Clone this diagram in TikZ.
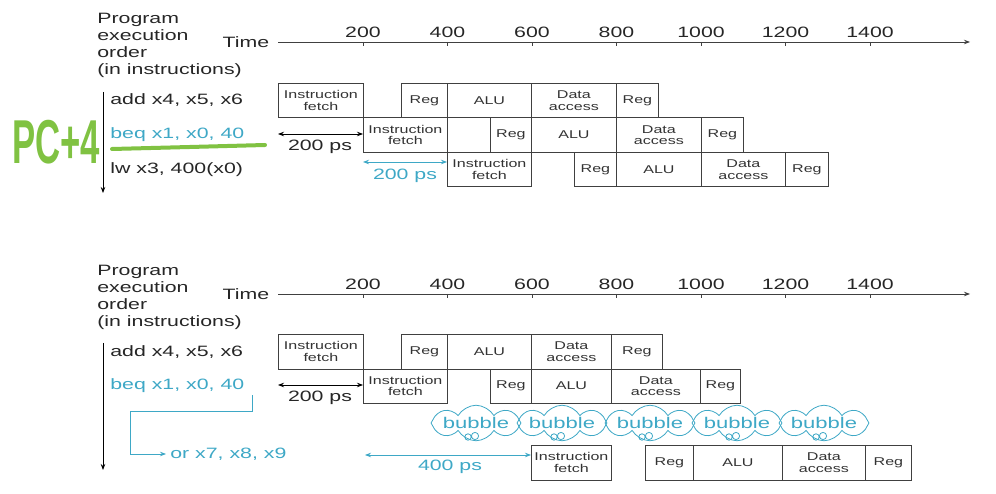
\documentclass[tikz,border=0pt]{standalone}
\usepackage{fontspec}
\setmainfont[FakeStretch=1.42]{Liberation Sans}
\newfontfamily\penfont[FakeStretch=0.56]{Liberation Sans}
\usetikzlibrary{shapes.symbols,arrows.meta,positioning}
\definecolor{branchblue}{RGB}{62,168,198}
\definecolor{pengreen}{RGB}{128,194,66}

\begin{document}
\begin{tikzpicture}[x=1bp,y=-1bp,>={Stealth[length=6bp,width=4.5bp]},line width=0.8bp,
  stage box/.style={draw=black!75,anchor=north west,minimum height=34.5bp,inner sep=0pt,align=center,text=black!80,font=\fontsize{11.3bp}{11.5bp}\selectfont},
  txt/.style={inner sep=0pt,text=black!85,font=\fontsize{15bp}{17bp}\selectfont},
  instr/.style={txt,anchor=west},
  branch/.style={txt,anchor=west,text=branchblue},
  bubble cloud/.style={cloud,cloud puffs=8,cloud puff arc=120,cloud ignores aspect,draw=branchblue,text=branchblue,minimum width=76bp,minimum height=32bp,inner sep=0pt,font=\fontsize{15.5bp}{17bp}\selectfont}]
  \useasboundingbox (0,0) rectangle (996,494);

  % ---------- top: pipelined, no stall ----------
  \node[txt,anchor=north west,align=left] (order top) at (97,12.5) {Program\\execution\\order\\(in instructions)};
  \node[txt] (time top) at (246,42) {Time};
  \coordinate (axis top start) at (278,42);
  \coordinate (axis top end) at (970,42);
  \draw[->,black!75] (axis top start) -- (axis top end);
  \foreach \i in {1,...,7}{
    \pgfmathtruncatemacro\ps{200*\i}
    \draw[black!75] (278.5+84.5*\i,42) -- ++(0,4);
    \node[txt] (tick top \i) at (278.5+84.5*\i,32) {\ps};
  }
  \coordinate (order top a) at (103,92);
  \coordinate (order top b) at (103,193);
  \draw[->] (order top a) -- (order top b);

  \node[instr] (add top) at (110,100) {add x4, x5, x6};
  \node[branch] (beq top) at (110,135) {beq x1, x0, 40};
  \node[instr] (lw top) at (110,170) {lw x3, 400(x0)};

  \node[stage box,minimum width=85bp] (add if) at (278,83) {Instruction\\fetch};
  \node[stage box,minimum width=46bp] (add rr) at (401,83) {Reg};
  \node[stage box,minimum width=84bp] (add alu) at (447,83) {ALU};
  \node[stage box,minimum width=85bp] (add mem) at (531,83) {Data\\access};
  \node[stage box,minimum width=42bp] (add rw) at (616,83) {Reg};

  \node[stage box,minimum width=84bp] (beq if) at (363,117.5) {Instruction\\fetch};
  \node[stage box,minimum width=41bp] (beq rr) at (490,117.5) {Reg};
  \node[stage box,minimum width=85bp] (beq alu) at (531,117.5) {ALU};
  \node[stage box,minimum width=85bp] (beq mem) at (616,117.5) {Data\\access};
  \node[stage box,minimum width=42bp] (beq rw) at (701,117.5) {Reg};

  \node[stage box,minimum width=84bp] (lw if) at (447,152) {Instruction\\fetch};
  \node[stage box,minimum width=42bp] (lw rr) at (574,152) {Reg};
  \node[stage box,minimum width=85bp] (lw alu) at (616,152) {ALU};
  \node[stage box,minimum width=84bp] (lw mem) at (701,152) {Data\\access};
  \node[stage box,minimum width=43bp] (lw rw) at (785,152) {Reg};

  \coordinate (gap top a) at (278,134);
  \coordinate (gap top b) at (363,134);
  \draw[<->] (gap top a) -- (gap top b);
  \node[txt] (ps top) at (320,147) {200 ps};
  \coordinate (br top a) at (363,162);
  \coordinate (br top b) at (447,162);
  \draw[<->,branchblue] (br top a) -- (br top b);
  \node[txt,text=branchblue] (ps top br) at (405,176) {200 ps};

  % handwritten note
  \node[inner sep=0pt,text=pengreen,font=\penfont\bfseries\fontsize{62bp}{62bp}\selectfont] (pc note) at (56,142) {PC+4};
  \draw[pengreen,line width=4bp,line cap=round] (112,149) .. controls (190,147) .. (265,145);

  % ---------- bottom: branch with stall ----------
  \node[txt,anchor=north west,align=left] (order bot) at (97,264.5) {Program\\execution\\order\\(in instructions)};
  \node[txt] (time bot) at (246,294) {Time};
  \coordinate (axis bot start) at (278,294);
  \coordinate (axis bot end) at (970,294);
  \draw[->,black!75] (axis bot start) -- (axis bot end);
  \foreach \i in {1,...,7}{
    \pgfmathtruncatemacro\ps{200*\i}
    \draw[black!75] (278.5+84.5*\i,294) -- ++(0,4);
    \node[txt] (tick bot \i) at (278.5+84.5*\i,284) {\ps};
  }
  \coordinate (order bot a) at (103,343);
  \coordinate (order bot b) at (103,470);
  \draw[->] (order bot a) -- (order bot b);

  \node[instr] (add bot) at (110,352) {add x4, x5, x6};
  \node[branch] (beq bot) at (110,386) {beq x1, x0, 40};
  \node[branch] (or bot) at (170,454) {or x7, x8, x9};

  \node[stage box,minimum width=85bp] (add2 if) at (278,334) {Instruction\\fetch};
  \node[stage box,minimum width=46bp] (add2 rr) at (401,334) {Reg};
  \node[stage box,minimum width=84bp] (add2 alu) at (447,334) {ALU};
  \node[stage box,minimum width=80bp] (add2 mem) at (531,334) {Data\\access};
  \node[stage box,minimum width=51bp] (add2 rw) at (611,334) {Reg};

  \node[stage box,minimum width=84bp] (beq2 if) at (363,368.5) {Instruction\\fetch};
  \node[stage box,minimum width=41bp] (beq2 rr) at (490,368.5) {Reg};
  \node[stage box,minimum width=80bp] (beq2 alu) at (531,368.5) {ALU};
  \node[stage box,minimum width=89bp] (beq2 mem) at (611,368.5) {Data\\access};
  \node[stage box,minimum width=40bp] (beq2 rw) at (700,368.5) {Reg};

  \foreach \c/\x in {1/476,2/562,3/650,4/737,5/824}{
    \node[bubble cloud] (bubble \c) at (\x,423) {bubble};
    \draw[branchblue] (\x-8,437) circle (3.2bp) (\x-1,436) circle (3.6bp);
  }

  \node[stage box,minimum width=80bp] (or if) at (531,445) {Instruction\\fetch};
  \node[stage box,minimum width=48bp] (or rr) at (645,445) {Reg};
  \node[stage box,minimum width=89bp] (or alu) at (693,445) {ALU};
  \node[stage box,minimum width=83bp] (or mem) at (782,445) {Data\\access};
  \node[stage box,minimum width=46bp] (or rw) at (865,445) {Reg};

  \coordinate (gap bot a) at (278,385);
  \coordinate (gap bot b) at (363,385);
  \draw[<->] (gap bot a) -- (gap bot b);
  \node[txt] (ps bot) at (320,398) {200 ps};

  \coordinate (jump a) at (252,395);
  \coordinate (jump b) at (130,411);
  \draw[->,branchblue] (jump a) |- (jump b) |- ([xshift=-4bp]or bot.west);
  \coordinate (stall a) at (365,455);
  \draw[<->,branchblue] (stall a) -- (or if.west |- stall a);
  \node[txt,text=branchblue] (ps stall) at (450,467) {400 ps};
\end{tikzpicture}
\end{document}
